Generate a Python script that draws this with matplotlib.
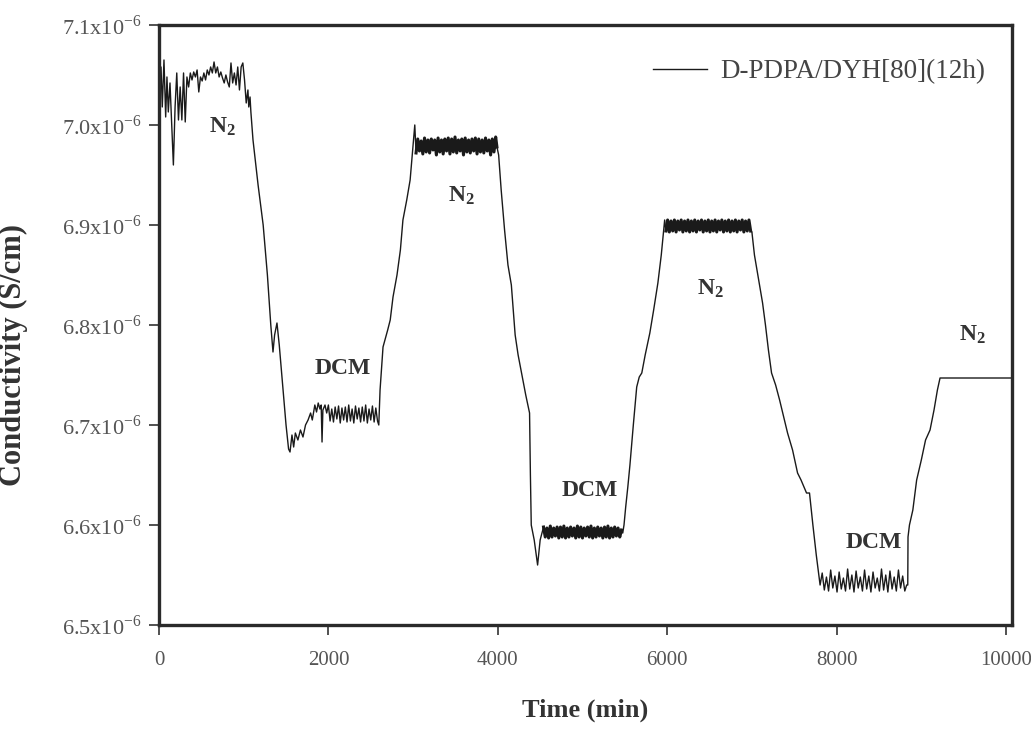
import matplotlib
matplotlib.use("Agg")
import matplotlib.pyplot as plt
import numpy as np

plt.rcParams['font.family'] = ['Liberation Serif', 'DejaVu Serif']
plt.rcParams['mathtext.fontset'] = 'custom'
plt.rcParams['mathtext.rm'] = 'Liberation Serif'
plt.rcParams['mathtext.bf'] = 'Liberation Serif:bold'

# --- data (time in min, conductivity in 1e-6 S/cm) ---
# first N2 period
t_n2a = [0, 24, 39, 59, 79, 94, 110, 130, 150, 170, 190, 210, 230, 250, 270, 290, 310, 330, 350, 370,
         390, 410, 430, 450, 470, 490, 510, 530, 550, 570, 590, 610, 630, 650, 670, 690, 710, 730, 750, 770,
         790, 810, 830, 850, 870, 890, 910, 930, 950, 970, 990, 1010, 1030, 1050, 1060, 1075, 1085]
c_n2a = [7.030, 7.058, 7.018, 7.065, 7.008, 7.048, 7.013, 7.042, 7.002, 6.960, 7.018, 7.052, 7.005, 7.038,
         7.005, 7.052, 7.003, 7.048, 7.038, 7.052, 7.045, 7.053, 7.048, 7.055, 7.033, 7.048, 7.044, 7.052,
         7.045, 7.055, 7.050, 7.058, 7.052, 7.063, 7.052, 7.058, 7.048, 7.053, 7.047, 7.042, 7.050, 7.043,
         7.038, 7.062, 7.042, 7.052, 7.040, 7.058, 7.035, 7.058, 7.062, 7.045, 7.022, 7.035, 7.018, 7.028, 7.013]

# drop into first DCM
t_d1 = [1110, 1170, 1230, 1280, 1320, 1346, 1365, 1393, 1420, 1460, 1500, 1530]
c_d1 = [6.985, 6.940, 6.900, 6.850, 6.800, 6.773, 6.790, 6.802, 6.780, 6.740, 6.700, 6.676]

# first DCM plateau
t_dcm1 = [1547, 1570, 1590, 1610, 1640, 1670, 1700, 1730, 1760, 1790, 1810, 1840, 1860, 1880, 1900, 1915,
          1925, 1935, 1960, 1980, 2000, 2020, 2040, 2060, 2080, 2100, 2120, 2140, 2160, 2180, 2200, 2220,
          2240, 2260, 2280, 2300, 2320, 2340, 2360, 2380, 2400, 2420, 2440, 2460, 2480, 2500, 2520, 2540,
          2560, 2580, 2595]
c_dcm1 = [6.673, 6.690, 6.678, 6.692, 6.685, 6.695, 6.688, 6.700, 6.705, 6.712, 6.705, 6.720, 6.713, 6.722,
          6.716, 6.720, 6.683, 6.715, 6.720, 6.712, 6.720, 6.704, 6.716, 6.703, 6.718, 6.706, 6.719, 6.702,
          6.717, 6.705, 6.718, 6.703, 6.720, 6.704, 6.716, 6.702, 6.719, 6.706, 6.717, 6.703, 6.718, 6.704,
          6.720, 6.702, 6.716, 6.705, 6.719, 6.703, 6.717, 6.704, 6.700]

# rise to second N2
t_r2 = [2610, 2645, 2700, 2730, 2763, 2810, 2850, 2880, 2925, 2965, 2995, 3020]
c_r2 = [6.735, 6.778, 6.795, 6.805, 6.828, 6.850, 6.875, 6.905, 6.925, 6.945, 6.975, 7.000]

# second N2 plateau
t_n2b = [3035, 3055, 3075, 3095, 3115, 3135, 3155, 3175, 3195, 3215, 3235, 3255, 3275, 3295, 3315, 3335,
         3355, 3375, 3395, 3415, 3435, 3455, 3475, 3495, 3515, 3535, 3555, 3575, 3595, 3615, 3635, 3655,
         3675, 3695, 3715, 3735, 3755, 3775, 3795, 3815, 3835, 3855, 3875, 3895, 3915, 3935, 3955, 3975, 3990]
c_n2b = [6.972, 6.986, 6.974, 6.984, 6.971, 6.987, 6.973, 6.985, 6.972, 6.986, 6.975, 6.985, 6.970, 6.987,
         6.973, 6.985, 6.971, 6.986, 6.974, 6.987, 6.971, 6.986, 6.973, 6.988, 6.972, 6.985, 6.974, 6.986,
         6.970, 6.987, 6.973, 6.985, 6.972, 6.986, 6.974, 6.987, 6.971, 6.986, 6.973, 6.985, 6.972, 6.987,
         6.974, 6.985, 6.970, 6.986, 6.973, 6.988, 6.978]

# drop into second DCM
t_d2 = [4010, 4040, 4080, 4120, 4160, 4205, 4240, 4280, 4330, 4375, 4385, 4395, 4430, 4470, 4500, 4530]
c_d2 = [6.970, 6.935, 6.895, 6.860, 6.840, 6.790, 6.770, 6.752, 6.730, 6.712, 6.650, 6.600, 6.585, 6.560,
        6.585, 6.595]

# second DCM plateau (dense band)
t_dcm2 = [4540, 4560, 4580, 4600, 4620, 4640, 4660, 4680, 4700, 4720, 4740, 4760, 4780, 4800, 4820, 4840,
          4860, 4880, 4900, 4920, 4940, 4960, 4980, 5000, 5020, 5040, 5060, 5080, 5100, 5120, 5140, 5160,
          5180, 5200, 5220, 5240, 5260, 5280, 5300, 5320, 5340, 5360, 5380, 5400, 5420, 5440, 5460]
c_dcm2 = [6.598, 6.588, 6.597, 6.587, 6.599, 6.588, 6.597, 6.589, 6.598, 6.587, 6.598, 6.588, 6.599, 6.587,
          6.597, 6.588, 6.598, 6.589, 6.597, 6.587, 6.599, 6.588, 6.598, 6.587, 6.597, 6.589, 6.598, 6.588,
          6.599, 6.587, 6.597, 6.588, 6.598, 6.589, 6.597, 6.587, 6.598, 6.588, 6.599, 6.587, 6.597, 6.588,
          6.598, 6.589, 6.597, 6.588, 6.595]

# rise to third N2
t_r3 = [5475, 5490, 5510, 5535, 5560, 5600, 5640, 5670, 5700, 5740, 5795, 5840, 5890, 5930, 5970]
c_r3 = [6.592, 6.600, 6.618, 6.638, 6.660, 6.700, 6.738, 6.748, 6.752, 6.770, 6.792, 6.815, 6.842, 6.870, 6.905]

# third N2 plateau (dense band)
t_n2c = [5985, 6005, 6025, 6045, 6065, 6085, 6105, 6125, 6145, 6165, 6185, 6205, 6225, 6245, 6265, 6285,
         6305, 6325, 6345, 6365, 6385, 6405, 6425, 6445, 6465, 6485, 6505, 6525, 6545, 6565, 6585, 6605,
         6625, 6645, 6665, 6685, 6705, 6725, 6745, 6765, 6785, 6805, 6825, 6845, 6865, 6885, 6905, 6925,
         6945, 6965, 6985]
c_n2c = [6.894, 6.905, 6.893, 6.904, 6.894, 6.905, 6.893, 6.904, 6.895, 6.905, 6.893, 6.904, 6.894, 6.905,
         6.893, 6.904, 6.894, 6.905, 6.893, 6.904, 6.895, 6.905, 6.893, 6.904, 6.894, 6.905, 6.893, 6.904,
         6.894, 6.905, 6.893, 6.904, 6.895, 6.905, 6.893, 6.904, 6.894, 6.905, 6.893, 6.904, 6.894, 6.905,
         6.893, 6.904, 6.895, 6.905, 6.893, 6.904, 6.894, 6.905, 6.894]

# drop into third DCM
t_d3 = [7000, 7030, 7060, 7090, 7126, 7160, 7195, 7232, 7280, 7327, 7370, 7421, 7480, 7539, 7580, 7645,
        7680, 7720, 7760, 7798]
c_d3 = [6.893, 6.870, 6.855, 6.840, 6.822, 6.800, 6.775, 6.752, 6.740, 6.725, 6.710, 6.692, 6.675, 6.652,
        6.645, 6.632, 6.632, 6.600, 6.570, 6.545]

# third DCM plateau
t_dcm3 = [7805, 7830, 7855, 7880, 7905, 7930, 7955, 7980, 8005, 8030, 8055, 8080, 8105, 8130, 8155, 8180,
          8205, 8230, 8255, 8280, 8305, 8330, 8355, 8380, 8405, 8430, 8455, 8480, 8505, 8530, 8555, 8580,
          8605, 8630, 8655, 8680, 8705, 8730, 8755, 8780, 8805, 8827]
c_dcm3 = [6.540, 6.552, 6.535, 6.548, 6.534, 6.555, 6.537, 6.549, 6.533, 6.553, 6.536, 6.547, 6.534, 6.556,
          6.536, 6.550, 6.533, 6.554, 6.537, 6.548, 6.534, 6.555, 6.536, 6.549, 6.533, 6.553, 6.537, 6.547,
          6.534, 6.556, 6.535, 6.550, 6.533, 6.554, 6.536, 6.548, 6.534, 6.555, 6.537, 6.549, 6.534, 6.540]

# rise to last N2
t_r4 = [8840, 8843, 8860, 8900, 8945, 9000, 9050, 9103, 9150, 9190, 9221, 10071]
c_r4 = [6.540, 6.588, 6.600, 6.615, 6.645, 6.665, 6.685, 6.695, 6.715, 6.735, 6.747, 6.747]

# gas labels
lab_text = ['N2', 'DCM', 'N2', 'DCM', 'N2', 'DCM', 'N2']
lab_t = [744, 2172, 3565, 5088, 6505, 8441, 9598]
lab_c = [6.998, 6.757, 6.929, 6.635, 6.836, 6.583, 6.790]

time = np.concatenate([t_n2a, t_d1, t_dcm1, t_r2, t_n2b, t_d2, t_dcm2, t_r3, t_n2c, t_d3, t_dcm3, t_r4])
cond = np.concatenate([c_n2a, c_d1, c_dcm1, c_r2, c_n2b, c_d2, c_dcm2, c_r3, c_n2c, c_d3, c_dcm3, c_r4])

fig = plt.figure(figsize=(10.31, 7.30), dpi=100)
ax = fig.add_axes([0.1542, 0.1438, 0.8274, 0.822])

ax.plot(time, cond, color='#1a1a1a', lw=1.0, label='D-PDPA/DYH[80](12h)')
# the fast-oscillating plateaus print as solid bands
for tb, cb in [(t_n2b, c_n2b), (t_dcm2, c_dcm2), (t_n2c, c_n2c)]:
    ax.plot(tb, cb, color='#1a1a1a', lw=2.2)

ax.set_xlim(0, 10071)
ax.set_ylim(6.5, 7.1)

ax.set_xticks([0, 2000, 4000, 6000, 8000, 10000])
yt = [6.5, 6.6, 6.7, 6.8, 6.9, 7.0, 7.1]
ax.set_yticks(yt)
ax.set_yticklabels([f'{v:.1f}x10' + r'$^{\mathregular{-6}}$' for v in yt])

ax.tick_params(axis='both', direction='out', length=7, width=1.2, colors='#333333',
               labelcolor='#555555', labelsize=16, top=False, right=False)
ax.tick_params(axis='y', pad=6)
ax.tick_params(axis='x', pad=12, labelsize=15)
for sp in ax.spines.values():
    sp.set_linewidth(2.4)
    sp.set_color('#2a2a2a')

ax.set_xlabel('Time (min)', fontsize=19, fontweight='bold', color='#333333')
ax.set_ylabel('Conductivity (S/cm)', fontsize=22, fontweight='bold', color='#333333')
ax.xaxis.set_label_coords(0.4994, -0.122)
ax.yaxis.set_label_coords(-0.153, 0.45)

for s, tx, cy in zip(lab_text, lab_t, lab_c):
    txt = r'$\mathbf{N_2}$' if s == 'N2' else s
    ax.text(tx, cy, txt, fontsize=17, fontweight='bold', color='#333333', ha='center', va='center')

leg = ax.legend(loc='center left', bbox_to_anchor=(0.579, 0.9217), frameon=False, fontsize=19.5,
                handlelength=2.0, handletextpad=0.5, borderpad=0, borderaxespad=0)
for t in leg.get_texts():
    t.set_color('#444444')

fig.savefig('out.png', dpi=100)
